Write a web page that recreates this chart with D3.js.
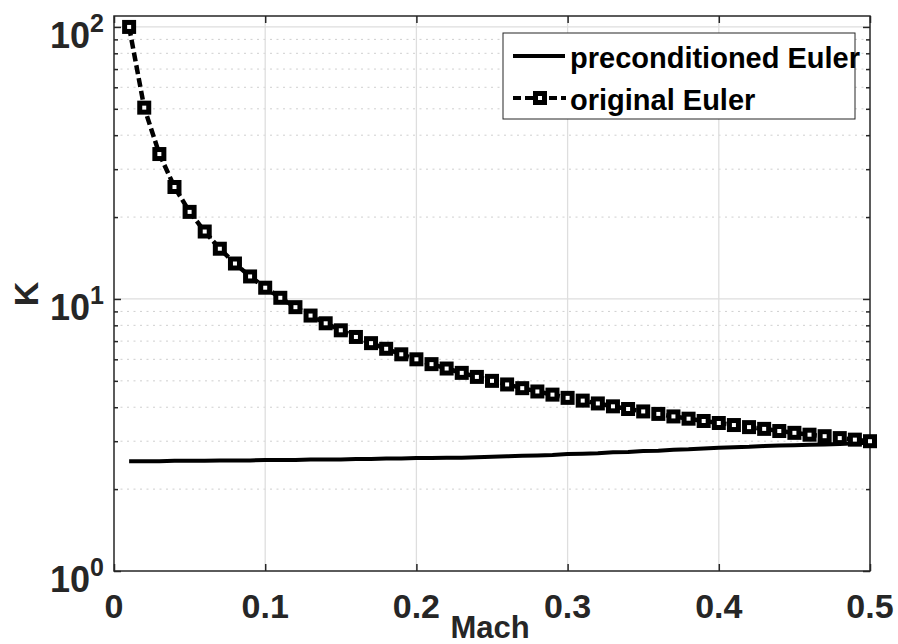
<!DOCTYPE html>
<html>
<head>
<meta charset="utf-8">
<script src="https://cdn.jsdelivr.net/npm/d3@7"></script>
<style>
  body { margin: 0; background: #fff; }
  text { font-family: "Liberation Sans", Arial, sans-serif; fill: #262626; }
</style>
</head>
<body>
<div id="chart"></div>
<script>
// Mach numbers (x)
var mach = [0.01,0.02,0.03,0.04,0.05,0.06,0.07,0.08,0.09,0.10,
            0.11,0.12,0.13,0.14,0.15,0.16,0.17,0.18,0.19,0.20,
            0.21,0.22,0.23,0.24,0.25,0.26,0.27,0.28,0.29,0.30,
            0.31,0.32,0.33,0.34,0.35,0.36,0.37,0.38,0.39,0.40,
            0.41,0.42,0.43,0.44,0.45,0.46,0.47,0.48,0.49,0.50];

// condition number K, original Euler (square markers)
var original = [100,50.5,34.1,25.8,20.9,17.7,15.3,13.5,12.1,11.0,
                10.1,9.33,8.69,8.14,7.67,7.25,6.88,6.56,6.26,6.00,
                5.76,5.55,5.35,5.17,5.00,4.85,4.70,4.57,4.45,4.33,
                4.23,4.13,4.03,3.94,3.86,3.78,3.70,3.63,3.56,3.50,
                3.44,3.38,3.33,3.27,3.22,3.17,3.13,3.08,3.04,3.00];

// condition number K, preconditioned Euler
var precond = [2.53,2.53,2.53,2.54,2.54,2.54,2.55,2.55,2.55,2.56,
               2.56,2.56,2.57,2.57,2.57,2.58,2.58,2.59,2.59,2.60,
               2.60,2.61,2.61,2.62,2.63,2.64,2.65,2.66,2.67,2.69,
               2.70,2.71,2.73,2.74,2.76,2.77,2.79,2.80,2.82,2.84,
               2.85,2.86,2.88,2.89,2.90,2.91,2.92,2.93,2.95,2.96];

var xTicks = [0, 0.1, 0.2, 0.3, 0.4, 0.5];
var yDecades = [1, 10, 100];
var yMinor = [2,3,4,5,6,7,8,9,20,30,40,50,60,70,80,90];
var seriesNames = ["preconditioned Euler", "original Euler"];

(function() {
    var width = 898, height = 644;
    var pl = 114, pr = 870, pt = 16, pb = 571;

    var svg = d3.select("#chart").append("svg")
        .attr("width", width)
        .attr("height", height);

    var x = d3.scaleLinear().domain([0, 0.5]).range([pl, pr]);
    var y = d3.scaleLog().domain([1, 109.7]).range([pb, pt]);

    // grid
    var grid = svg.append("g");
    grid.selectAll(".minor").data(yMinor).enter().append("line")
        .attr("x1", pl).attr("x2", pr)
        .attr("y1", d => y(d)).attr("y2", d => y(d))
        .attr("stroke", "#cfcfcf").attr("stroke-width", 1)
        .attr("stroke-dasharray", "2,4.5");
    grid.selectAll(".majy").data(yDecades.slice(1)).enter().append("line")
        .attr("x1", pl).attr("x2", pr)
        .attr("y1", d => y(d)).attr("y2", d => y(d))
        .attr("stroke", "#dedede").attr("stroke-width", 1.3);
    grid.selectAll(".majx").data(xTicks.slice(1, -1)).enter().append("line")
        .attr("x1", d => x(d)).attr("x2", d => x(d))
        .attr("y1", pt).attr("y2", pb)
        .attr("stroke", "#dedede").attr("stroke-width", 1.3);

    // axes (ticks inward, box on)
    var tickCol = "#262626";
    function noDomain(g) { g.select(".domain").remove(); }
    svg.append("g")
        .attr("transform", "translate(0," + pb + ")")
        .call(d3.axisBottom(x).tickValues(xTicks).tickSize(-7).tickFormat(""))
        .call(noDomain);
    svg.append("g")
        .attr("transform", "translate(0," + pt + ")")
        .call(d3.axisTop(x).tickValues(xTicks).tickSize(-7).tickFormat(""))
        .call(noDomain);
    svg.append("g")
        .attr("transform", "translate(" + pl + ",0)")
        .call(d3.axisLeft(y).tickValues(yDecades).tickSize(-7).tickFormat(""))
        .call(noDomain);
    svg.append("g")
        .attr("transform", "translate(" + pl + ",0)")
        .call(d3.axisLeft(y).tickValues(yMinor).tickSize(-4).tickFormat(""))
        .call(noDomain);
    svg.append("g")
        .attr("transform", "translate(" + pr + ",0)")
        .call(d3.axisRight(y).tickValues(yDecades).tickSize(-7).tickFormat(""))
        .call(noDomain);
    svg.append("g")
        .attr("transform", "translate(" + pr + ",0)")
        .call(d3.axisRight(y).tickValues(yMinor).tickSize(-4).tickFormat(""))
        .call(noDomain);
    svg.selectAll(".tick line").attr("stroke", tickCol).attr("stroke-width", 1.5);

    svg.append("rect")
        .attr("x", pl).attr("y", pt)
        .attr("width", pr - pl).attr("height", pb - pt)
        .attr("fill", "none").attr("stroke", tickCol).attr("stroke-width", 1.5);

    // tick labels
    svg.selectAll(".xlab").data(xTicks).enter().append("text")
        .attr("x", d => x(d)).attr("y", 618)
        .attr("text-anchor", "middle")
        .style("font-size", "34px").style("font-weight", "bold")
        .text(d => d === 0 ? "0" : d3.format(".1f")(d));

    var ylab = svg.selectAll(".ylab").data(yDecades).enter().append("text")
        .attr("x", 104).attr("y", d => y(d) + 21)
        .attr("text-anchor", "end")
        .style("font-weight", "bold");
    ylab.append("tspan").style("font-size", "36px").text("10");
    ylab.append("tspan").style("font-size", "25px").attr("dy", -16)
        .text(d => Math.round(Math.log10(d)));

    // axis titles
    svg.append("text")
        .attr("transform", "translate(38,294) rotate(-90)")
        .attr("text-anchor", "middle")
        .style("font-size", "34px").style("font-weight", "bold")
        .text("K");
    svg.append("text")
        .attr("x", 490).attr("y", 638)
        .attr("text-anchor", "middle")
        .style("font-size", "31px").style("font-weight", "bold")
        .text("Mach");

    // series
    var line = d3.line().x((d, i) => x(mach[i])).y(d => y(d));

    svg.append("path").datum(precond)
        .attr("d", line)
        .attr("fill", "none").attr("stroke", "#000").attr("stroke-width", 4);

    svg.append("path").datum(original)
        .attr("d", line)
        .attr("fill", "none").attr("stroke", "#000").attr("stroke-width", 4.5)
        .attr("stroke-dasharray", "9,4");

    svg.selectAll(".mk").data(original).enter().append("rect")
        .attr("x", (d, i) => x(mach[i]) - 4.5).attr("y", d => y(d) - 4.5)
        .attr("width", 9).attr("height", 9)
        .attr("fill", "#fff").attr("stroke", "#000").attr("stroke-width", 5);

    // legend
    var lg = svg.append("g");
    lg.append("rect")
        .attr("x", 503).attr("y", 33).attr("width", 352).attr("height", 86)
        .attr("fill", "#fff").attr("stroke", "#262626").attr("stroke-width", 1);
    lg.append("line")
        .attr("x1", 513).attr("x2", 565).attr("y1", 56).attr("y2", 56)
        .attr("stroke", "#000").attr("stroke-width", 4);
    lg.append("line")
        .attr("x1", 513).attr("x2", 566).attr("y1", 98).attr("y2", 98)
        .attr("stroke", "#000").attr("stroke-width", 4)
        .attr("stroke-dasharray", "8,4");
    lg.append("rect")
        .attr("x", 535.5).attr("y", 93.5).attr("width", 9).attr("height", 9)
        .attr("fill", "#fff").attr("stroke", "#000").attr("stroke-width", 5);
    lg.selectAll(".lt").data(seriesNames).enter().append("text")
        .attr("x", 570).attr("y", (d, i) => 68 + i * 42)
        .style("font-size", "29px").style("font-weight", "bold")
        .style("fill", "#000")
        .text(d => d);
})();
</script>
</body>
</html>
